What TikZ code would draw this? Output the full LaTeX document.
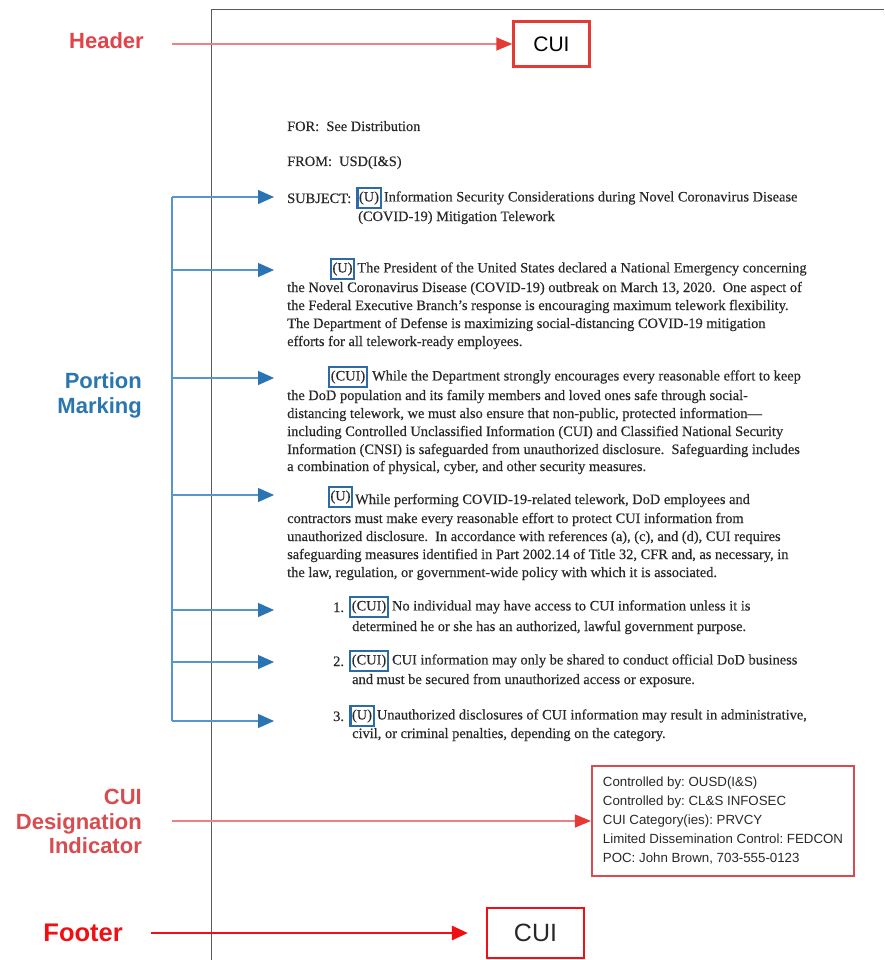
\documentclass[tikz,border=0pt]{standalone}
\usepackage{fontspec}
\setmainfont{Liberation Serif}
\newfontfamily\scanf{Liberation Serif}[FakeBold=0.35,Ligatures=TeX]
\newfontfamily\arialf{Liberation Sans}
\usetikzlibrary{arrows.meta}
\frenchspacing
\definecolor{hdrred}{RGB}{224,68,74}
\definecolor{pinkline}{RGB}{236,130,134}
\definecolor{arrred}{RGB}{229,57,53}
\definecolor{desred}{RGB}{216,76,80}
\definecolor{footred}{RGB}{240,16,20}
\definecolor{pmblue}{RGB}{42,118,174}
\definecolor{lineblue}{RGB}{86,150,205}
\definecolor{tipblue}{RGB}{43,116,179}
\definecolor{boxblue}{RGB}{43,108,168}
\definecolor{bodytext}{RGB}{40,40,40}
\definecolor{framegray}{RGB}{90,90,90}
\tikzset{
  txt/.style={anchor=base west, inner sep=0pt, text=bodytext, font=\scanf\fontsize{14.4}{16}\selectfont},
  pmbox/.style={draw=boxblue, line width=2.2pt, inner sep=1.6pt, minimum height=20pt, text=bodytext, font=\scanf\fontsize{14.4}{16}\selectfont},
  biglabel/.style={anchor=east, align=right, inner sep=0pt, font=\arialf\bfseries\fontsize{22}{24.5}\selectfont},
  redbox/.style={draw=arrred, line width=2.4pt, font=\arialf, text=black},
  blueconn/.style={draw=lineblue, line width=1.3pt, -{Triangle[length=16pt,width=14pt,color=tipblue]}},
  pinkconn/.style={draw=pinkline, line width=1.5pt, -{Triangle[length=16pt,width=13pt,color=arrred]}},
}
\begin{document}
\begin{tikzpicture}[x=1pt,y=-1pt]
\useasboundingbox (0,0) rectangle (884,960);
% page frame
\draw[framegray, line width=1pt] (211,960) -- (211,10) -- (884,10);

% header
\node[redbox, minimum width=76pt, minimum height=45pt, font=\arialf\fontsize{21}{24}\selectfont] (hbox) at (551.5,44) {CUI};
\node[biglabel, text=hdrred] (hlab) at (144,41) {Header};
\coordinate (hstart) at (172,44);
\draw[pinkconn] (hstart) -- (hbox.west);

% memo header lines
\node[txt] (for) at (287,131) {FOR:\ \ See Distribution};
\node[txt] (from) at (287,166) {FROM:\ \ USD(I\&S)};
\node[txt] (subj) at (287,203) {SUBJECT:};
\node[pmbox] (m0) at (369,198) {(U)};
\node[txt] (s1) at ([xshift=2pt]m0.base east) {Information Security Considerations during Novel Coronavirus Disease};
\node[txt] (s2) at (358,221) {(COVID-19) Mitigation Telework};

% paragraph 1
\node[pmbox] (m1) at (342.5,269) {(U)};
\node[txt] (p1a) at ([xshift=2pt]m1.base east) {The President of the United States declared a National Emergency concerning};
\node[txt] (p1b) at (287,292) {the Novel Coronavirus Disease (COVID-19) outbreak on March 13, 2020.\ \ One aspect of};
\node[txt] (p1c) at (287,310) {the Federal Executive Branch's response is encouraging maximum telework flexibility.};
\node[txt] (p1d) at (287,328) {The Department of Defense is maximizing social-distancing COVID-19 mitigation};
\node[txt] (p1e) at (287,346) {efforts for all telework-ready employees.};

% paragraph 2
\node[pmbox] (m2) at (348,377) {(CUI)};
\node[txt] (p2a) at ([xshift=4pt]m2.base east) {While the Department strongly encourages every reasonable effort to keep};
\node[txt] (p2b) at (287,400) {the DoD population and its family members and loved ones safe through social-};
\node[txt] (p2c) at (287,418) {distancing telework, we must also ensure that non-public, protected information—};
\node[txt] (p2d) at (287,436) {including Controlled Unclassified Information (CUI) and Classified National Security};
\node[txt] (p2e) at (287,454) {Information (CNSI) is safeguarded from unauthorized disclosure.\ \ Safeguarding includes};
\node[txt] (p2f) at (287,471) {a combination of physical, cyber, and other security measures.};

% paragraph 3
\node[pmbox] (m3) at (340.5,497) {(U)};
\node[txt] (p3a) at (355,504) {While performing COVID-19-related telework, DoD employees and};
\node[txt] (p3b) at (287,523) {contractors must make every reasonable effort to protect CUI information from};
\node[txt] (p3c) at (287,541) {unauthorized disclosure.\ \ In accordance with references (a), (c), and (d), CUI requires};
\node[txt] (p3d) at (287,559) {safeguarding measures identified in Part 2002.14 of Title 32, CFR and, as necessary, in};
\node[txt] (p3e) at (287,577) {the law, regulation, or government-wide policy with which it is associated.};

% item 1
\node[txt] (n1) at (333,612) {1.};
\node[pmbox] (m4) at (369,607) {(CUI)};
\node[txt] (i1a) at ([xshift=3pt]m4.base east) {No individual may have access to CUI information unless it is};
\node[txt] (i1b) at (352,631) {determined he or she has an authorized, lawful government purpose.};
% item 2
\node[txt] (n2) at (333,666) {2.};
\node[pmbox] (m5) at (369,661) {(CUI)};
\node[txt] (i2a) at ([xshift=3pt]m5.base east) {CUI information may only be shared to conduct official DoD business};
\node[txt] (i2b) at (352,684) {and must be secured from unauthorized access or exposure.};
% item 3
\node[txt] (n3) at (333,721) {3.};
\node[pmbox] (m6) at (362,716) {(U)};
\node[txt] (i3a) at ([xshift=2pt]m6.base east) {Unauthorized disclosures of CUI information may result in administrative,};
\node[txt] (i3b) at (352,738) {civil, or criminal penalties, depending on the category.};

% portion marking label and connectors
\node[biglabel, text=pmblue] (pmlab) at (142,395.5) {Portion\\Marking};
\coordinate (vtop) at (172,197);
\coordinate (vbot) at (172,721);
\draw[lineblue, line width=1.3pt] (vtop) -- (vbot);
\coordinate (t1) at (274,197);
\coordinate (t2) at (274,270);
\coordinate (t3) at (274,378);
\coordinate (t4) at (274,495);
\coordinate (t5) at (274,610);
\coordinate (t6) at (274,662);
\coordinate (t7) at (274,721);
\foreach \t in {t1,t2,t3,t4,t5,t6,t7}{
  \draw[blueconn] (vtop |- \t) -- (\t);
}

% designation indicator
\node[redbox, draw=desred, line width=2.2pt, align=left, inner sep=7pt, minimum width=262pt, minimum height=110pt,
      font=\arialf\fontsize{13.3}{19}\selectfont, text=bodytext] (dbox) at (723,821)
  {Controlled by: OUSD(I\&S)\\Controlled by: CL\&S INFOSEC\\CUI Category(ies): PRVCY\\Limited Dissemination Control: FEDCON\\POC: John Brown, 703-555-0123};
\node[biglabel, text=desred] (dlab) at (142,821.5) {CUI\\Designation\\Indicator};
\coordinate (dstart) at (172,821);
\draw[pinkconn] (dstart) -- (dbox.west);

% footer
\node[redbox, draw=footred, line width=2.2pt, minimum width=97pt, minimum height=50pt, font=\arialf\fontsize{25}{28}\selectfont, text=bodytext] (fbox) at (535.5,933) {CUI};
\node[biglabel, text=footred, font=\arialf\bfseries\fontsize{25.5}{28}\selectfont] (flab) at (123,933) {Footer};
\coordinate (fstart) at (151,933);
\draw[footred, line width=2.8pt, shorten >=18pt, -{Triangle[length=16pt,width=14pt]}] (fstart) -- (fbox.west);
\end{tikzpicture}
\end{document}
